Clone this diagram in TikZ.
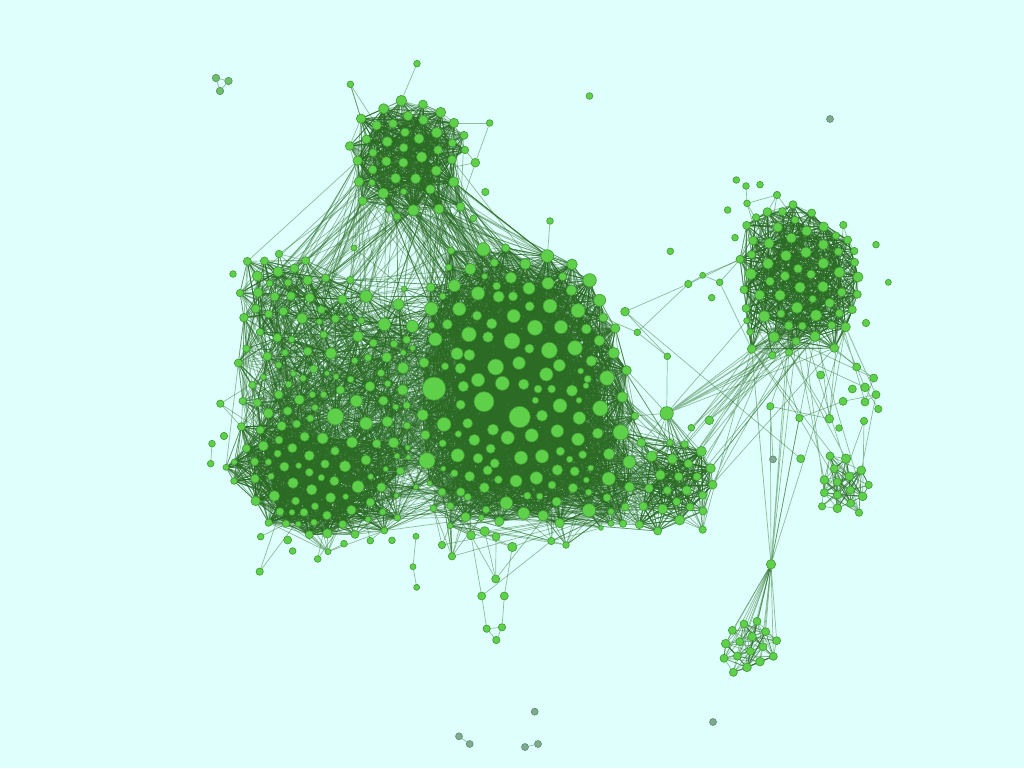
\documentclass[tikz,border=0pt]{standalone}
\pgfdeclarelayer{edges}
\pgfsetlayers{edges,main}
\definecolor{bgc}{HTML}{DFFFFD}
\definecolor{nodefill}{HTML}{5FD04A}
\definecolor{noderim}{HTML}{3F9A32}
\definecolor{edgec}{HTML}{2B6B24}
\definecolor{grayfill}{HTML}{7FAA90}
\definecolor{grayrim}{HTML}{5F8C70}
\tikzset{
  nd/.style={circle,inner sep=0pt,fill=nodefill,draw=noderim,line width=.6pt},
  ngray/.style={circle,inner sep=0pt,fill=grayfill,draw=grayrim,line width=.6pt,minimum size=7pt},
  edgebase/.style={color=edgec,line width=.7pt,draw opacity=.45}
}
\newcount\nidx \newcount\rsd \newcount\rhi \newcount\rlo \newcount\bufn
\newcount\eai \newcount\ebi \newcount\eaj \newcount\ecnt \newcount\pcnt \newcount\pstop
\rsd=20240611
\def\pathbuf{}
\def\nextr{\rhi=\rsd \divide\rhi by 127773
  \rlo=\numexpr\rsd-\rhi*127773\relax
  \rsd=\numexpr16807*\rlo-2836*\rhi\relax
  \ifnum\rsd<0 \advance\rsd by 2147483647 \fi}
\def\pickr#1#2#3{\nextr #3=\numexpr#1+\rsd*(#2-#1)/2147483647\relax}
\def\grp#1#2#3{\foreach \x/\y/\zd in {#3}{%
  \global\advance\nidx by 1
  \node[nd,minimum size={\zd/3*1pt}] (n\the\nidx) at ({#1+\x/3},{#2+\y/3}) {};
  \pgfmathtruncatemacro\tx{#1+\x/3}\pgfmathtruncatemacro\ty{#2+\y/3}%
  \expandafter\xdef\csname nx\the\nidx\endcsname{\tx}%
  \expandafter\xdef\csname ny\the\nidx\endcsname{\ty}%
  \expandafter\xdef\csname nd\the\nidx\endcsname{\zd}%
}}
\def\pend#1#2#3#4{\grp{#2}{#3}{0/0/#4}\pgfnodealias{#1}{n\the\nidx}\expandafter\xdef\csname id#1\endcsname{\the\nidx}}
\def\flushsegs{\ifnum\bufn>0 \edef\next{\noexpand\draw \pathbuf;}\next \def\pathbuf{}\bufn=0 \fi}
\def\addseg{\edef\pathbuf{\pathbuf (n\the\eai.center) -- (n\the\eaj.center) }\advance\bufn by 1 \ifnum\bufn>13 \flushsegs\fi}
\def\onee{%
  \pickr\ea\eb\eai \pickr\ea\eb\ebi
  \ifnum\csname nd\the\ebi\endcsname>\csname nd\the\eai\endcsname\relax \eai=\ebi \fi
  \pickr\ec\ed\eaj
  \ifnum\eai=\eaj\else
    \ifnum\numexpr(\csname nx\the\eai\endcsname-\csname nx\the\eaj\endcsname)*(\csname nx\the\eai\endcsname-\csname nx\the\eaj\endcsname)+(\csname ny\the\eai\endcsname-\csname ny\the\eaj\endcsname)*(\csname ny\the\eai\endcsname-\csname ny\the\eaj\endcsname)\relax<\numexpr\el*\el\relax
      \addseg
    \fi
  \fi}
\def\edgeloop{\ifnum\ecnt>0 \onee \advance\ecnt by -1 \expandafter\edgeloop\fi}
\def\edges#1#2#3#4#5#6{\edef\ea{\number#2}\edef\eb{\number#3}\edef\ec{\number#4}\edef\ed{\number#5}\def\el{#6}\ecnt=#1 \edgeloop \flushsegs}
% for every node a..b: k tries to range c..d within length L
\def\pendloop{\ifnum\pcnt>\pstop\else
   \edef\ea{\the\pcnt}\edef\eb{\the\pcnt}\ecnt=\pk \edgeloop \advance\pcnt by 1 \expandafter\pendloop\fi}
\def\pends#1#2#3#4#5#6{\pcnt=\numexpr#1\relax \pstop=\numexpr#2\relax \def\pk{#3}\edef\ec{\number\numexpr#4\relax}\edef\ed{\number\numexpr#5\relax}\def\el{#6}\pendloop \flushsegs}
\def\mark#1{\expandafter\xdef\csname #1\endcsname{\the\nidx}}
\begin{document}
\begin{tikzpicture}[x=1pt,y=-1pt]
\useasboundingbox (0,0) rectangle (1024,768);
\begin{pgfonlayer}{edges}
\fill[bgc] (0,0) rectangle (1024,768);
\end{pgfonlayer}
% ---------- top cluster
\edef\Ts{\the\numexpr\nidx+1}
\grp{340}{50}{184/152/32,131/176/30,249/163/26,302/187/30,63/206/28,342/219/28,204/198/28,250/210/28,159/221/26,110/226/28,372/256/24,195/247/26,290/248/32,237/266/30,79/268/26,142/275/30,337/279/24,29/288/26,375/300/22,294/300/26,191/293/26,99/308/24,245/321/32,53/332/28,336/329/26,139/334/28,190/338/28,98/359/26,289/362/30,167/385/30,227/386/30,57/395/28,96/398/20,341/396/30,271/418/28,191/425/20,130/430/32,68/453/26,362/470/26,297/477/30,220/481/34,148/477/20,171/500/22}
\mark{Te}
\edef\TPs{\the\numexpr\nidx+1}
\grp{340}{50}{231/41/20,31/103/20,449/219/20,406/338/26,436/426/22,400/505/20}
\mark{TPe}
% ---------- left cluster
\edef\Ls{\the\numexpr\nidx+1}
\grp{200}{250}{237/12/22,142/34/24,193/33/24,317/32/24,234/65/30,283/55/26,172/78/30,377/84/24,323/91/28,264/98/22,209/100/20,451/90/22,120/129/22,174/128/28,224/140/26,273/138/26,329/143/28,427/148/28,498/139/36,612/116/16,595/163/34,167/176/26,206/192/24,250/184/26,364/179/24,132/203/26,306/205/32,358/215/18,406/206/24,450/203/18,484/212/20,553/223/38,637/229/36,180/246/22,232/263/26,275/268/20,371/254/22,474/259/32,520/279/24,620/269/24,582/282/22,638/294/18,139/296/22,323/304/26,393/310/34,255/308/20,202/319/26,610/308/18,115/339/24,236/345/20,464/332/20,504/323/22,560/322/30,609/354/34,341/357/24,280/371/18,381/370/16,543/369/22,190/381/18,309/385/20,408/380/18,452/388/20,157/405/22,266/403/20,563/401/20,510/409/30,608/420/32,421/420/26,236/434/26,337/434/20,371/434/20,128/453/22,172/458/24,298/449/30,469/453/36,550/452/28,587/471/18,620/466/22,345/473/20,263/483/26,205/490/30,406/500/50,331/505/22,290/522/24,498/520/38,562/515/32,124/530/24,245/528/28,621/527/22,181/540/24,314/560/28,368/565/34,237/570/24,456/577/34,530/581/26,581/578/32,190/588/30,139/595/24,277/594/28,405/603/26,233/611/22,328/617/30,103/636/18,164/635/24,205/636/20,375/642/26,498/630/30,623/593/16,591/618/18,625/622/16,296/647/18,253/650/28,435/649/34,78/652/18,328/667/24,557/657/16,601/663/24,213/679/20,165/686/26,364/683/20,512/680/18,403/693/28,102/693/20,279/699/32,474/710/36,544/712/28,648/711/16,335/719/32,223/738/32,437/740/18,392/743/30,589/737/16,167/753/28,287/753/24,511/757/26,345/769/22,240/785/24,276/787/18,312/787/24,454/780/28,548/786/20,381/796/26,504/808/18,592/803/20,206/818/22,258/821/22,295/822/18,342/817/20,428/823/24,553/842/20,328/854/24,382/850/28,465/853/24}
\mark{Le}
\edef\LPs{\the\numexpr\nidx+1}
\grp{200}{250}{99/72/20,61/461/22,72/558/22,36/581/20,32/641/20,182/860/20,263/870/24,648/859/18,432/881/20,511/872/20,576/871/20,278/903/20,384/905/18,353/927/20,179/965/22}
\mark{LPe}
% ---------- main cluster
\edef\Ms{\the\numexpr\nidx+1}
\grp{400}{240}{250/28/40,317/24/24,153/32/22,442/48/38,516/73/32,146/82/20,283/68/24,376/72/32,211/87/34,254/109/18,333/113/34,488/110/24,569/121/40,444/130/36,163/137/36,92/142/26,290/138/24,387/145/36,514/151/32,234/160/40,296/170/34,339/169/28,128/169/20,599/181/36,389/199/28,450/198/42,94/206/40,178/207/40,534/212/42,341/228/40,231/227/28,610/233/26,275/251/32,94/256/20,142/253/30,405/263/46,483/261/40,559/267/30,646/265/28,207/283/44,264/291/32,106/298/40,336/303/48,598/302/32,388/326/28,448/331/48,525/324/44,171/341/36,208/345/34,641/339/34,72/368/30,357/369/38,135/379/22,574/363/32,181/385/32,287/381/48,478/376/36,680/391/28,439/403/40,542/393/18,234/420/40,563/417/22,621/414/44,307/430/42,371/433/32,558/437/18,190/439/32,102/446/70,414/447/24,455/447/24,516/452/34,667/471/32,252/485/60,406/481/20,537/481/18,182/494/28,480/497/42,601/505/46,705/528/22,68/525/34,359/531/64,426/527/34,538/534/38,132/553/42,203/550/30,279/569/34,472/573/38,662/577/46,76/585/28,175/582/20,593/580/32,323/593/40,395/586/40,223/600/34,534/598/38,128/610/22,272/626/28,627/642/34,481/634/26,548/644/24,173/646/40,426/649/40,363/653/40,234/655/30,509/658/20,81/662/48,688/666/38,284/670/28,263/691/28,472/690/32,130/686/16,572/684/18,524/694/28,163/700/22,209/709/30,409/714/38,626/716/40,348/723/36,295/719/24,559/720/18,89/730/16,456/735/24,253/743/30,519/744/28,688/741/30,126/756/24,182/756/26,566/757/20,203/771/22,382/767/22,419/769/20,621/773/24,470/785/28,319/789/38,676/801/24,100/805/20,151/798/22,567/811/40,258/809/22,371/820/36,429/827/32,633/815/20,197/831/28,244/833/18,298/844/28,479/849/28,633/850/18,669/851/22,150/857/18,603/864/14}
\mark{Me}
\edef\MPs{\the\numexpr\nidx+1}
\grp{400}{240}{675/215/26,712/277/20}
\mark{MPe}
% ---------- south east lobe
\edef\Ss{\the\numexpr\nidx+1}
\grp{600}{390}{124/158/26,210/158/20,254/163/22,304/184/30,155/199/32,217/207/30,265/221/26,332/235/28,181/255/30,236/260/26,291/260/24,338/284/26,147/295/26,202/301/24,260/301/28,308/316/24,230/335/24,130/349/26,270/351/24,188/357/30,309/363/24,239/390/30,118/404/24,173/423/24,308/419/22}
\mark{Se}
\pend{hubA}{666.7}{413.3}{40}
\pend{pk}{691.3}{427.7}{20}
\pend{pl}{709.3}{420.3}{26}
% ---------- right cluster
\edef\Rs{\the\numexpr\nidx+1}
\grp{700}{170}{141/100/20,279/104/24,202/126/26,247/125/24,335/129/24,168/142/22,285/150/22,140/166/24,233/172/28,371/170/28,320/183/30,408/197/22,274/204/30,443/210/24,159/212/26,207/220/30,370/224/30,463/243/22,415/245/24,155/254/24,318/247/32,258/257/32,120/268/24,464/277/24,370/280/32,204/281/32,294/296/26,418/307/32,152/312/34,333/313/26,255/318/28,474/321/30,210/334/26,369/350/32,300/352/32,132/359/24,425/367/26,179/375/30,240/376/32,472/373/24,338/387/22,389/399/28,138/415/24,291/413/34,457/419/24,243/431/24,418/430/24,193/439/34,348/436/34,140/452/18,266/467/26,307/468/24,395/466/24,437/471/28,150/486/20,222/501/32,345/499/30,288/514/24,403/534/26,155/537/26,267/547/22,217/556/22}
\mark{Re}
\edef\RPs{\the\numexpr\nidx+1}
\grp{700}{170}{109/30/20,138/48/20,180/44/20,231/75/22,83/120/20,430/165/22,105/203/20,528/224/20,565/337/18,35/383/20,498/459/22,471/591/20}
\mark{RPe}
\pend{pa}{702.7}{275.3}{18}
\pend{pb}{719.7}{282.3}{20}
\pend{pc}{688.3}{284}{22}
\pend{pd}{667.3}{356.3}{20}
\pend{pe}{670.3}{251.3}{20}
\pend{pf}{550}{221}{20}
\pend{pg}{354}{248}{18}
\pend{ph}{589.5}{96}{20}
% ---------- nodes between right and small cluster
\edef\Zs{\the\numexpr\nidx+1}
\grp{750}{330}{320/111/24,371/144/24,212/135/24,345/172/26,307/177/24,378/194/24,279/214/24,345/216/24,385/237/22,148/264/22,267/294/20,342/273/22}
\mark{Ze}
\pend{za}{770.3}{406.3}{22}
\pend{zb}{829.3}{418.7}{26}
% ---------- small cluster
\pend{qa}{800.7}{458.7}{24}
\edef\Qs{\the\numexpr\nidx+1}
\grp{700}{440}{390/48/24,438/56/28,484/91/26,403/86/24,448/109/26,373/120/26,412/126/24,506/135/22,451/150/24,373/158/24,412/165/24,488/169/26,452/190/24,366/199/22,412/205/26,477/218/22}
\mark{Qe}
% ---------- bottom cluster
\pend{hubB}{771}{564.3}{28}
\edef\Bs{\the\numexpr\nidx+1}
\grp{700}{440}{97/571/24,132/552/24,171/544/24,197/575/24,230/602/24,156/590/26,119/605/24,77/611/26,189/620/24,151/634/24,112/648/24,72/655/24,220/649/24,180/665/26,141/682/26,100/697/24}
\mark{Be}
% ---------- south fringe
\pend{sa}{512.3}{547}{28}
\pend{sb}{495.7}{579}{24}
\pend{sc}{481.7}{596}{24}
\pend{sd}{504.3}{596}{24}
\pend{se}{486.7}{628.7}{22}
\pend{sf}{502}{627.3}{22}
\pend{sg}{496.3}{640}{22}
\pend{sh}{471}{535.3}{26}
\pend{si}{484.7}{531.3}{28}
\pend{sj}{551.3}{541}{22}
\pend{sk}{442}{545}{22}
\pend{sl}{452}{556.3}{22}
\pend{sm}{496}{536.7}{24}
\pend{sn}{566}{545}{20}
\pend{so}{413}{566.7}{18}
\pend{sp}{416.7}{587.3}{18}
% ---------- separate little groups
\node[ngray,fill=grayfill!40!nodefill,minimum size=7.5pt] (ta) at (216,78) {};
\node[ngray,fill=grayfill!40!nodefill,minimum size=7.5pt] (tb) at (228.5,81) {};
\node[ngray,fill=grayfill!40!nodefill,minimum size=7.5pt] (tc) at (220,91) {};
\node[ngray] (ga) at (830,119) {};
\node[ngray] (gb) at (773,459.3) {};
\node[ngray] (gc) at (534.7,711.7) {};
\node[ngray] (gd) at (459,736.3) {};
\node[ngray] (ge) at (469.7,744) {};
\node[ngray] (gf) at (525,747) {};
\node[ngray] (gg) at (538,744) {};
\node[ngray] (gh) at (713,722) {};
\begin{pgfonlayer}{edges}
\begin{scope}[edgebase]
\draw (ta) -- (tb); \draw (tb) -- (tc); \draw (ta) -- (tc);
\draw (gd) -- (ge); \draw (gf) -- (gg);
% clusters
\edges{1200}{\Ts}{\Te}{\Ts}{\Te}{105}
\edges{4500}{\Ls}{\Le}{\Ls}{\Le}{105}
\edges{2500}{\numexpr\Ls+85}{\Le}{\numexpr\Ls+85}{\Le}{85}
\edges{10000}{\Ls}{\Le}{\Ls}{\Le}{50}
\edges{8000}{\Ms}{\Me}{\Ms}{\Me}{150}
\edges{8000}{\Ms}{\Me}{\Ms}{\Me}{60}
\edges{4500}{\Ms}{\Me}{\Ls}{\Le}{135}
\edges{4000}{\Ms}{\Me}{\Ls}{\Le}{60}
\edges{1900}{\Ms}{\Me}{\Ss}{\Se}{110}
\edges{650}{\Ss}{\Se}{\Ss}{\Se}{65}
\edges{2000}{\Rs}{\Re}{\Rs}{\Re}{85}
\edges{2500}{\Rs}{\Re}{\Rs}{\Re}{45}
\edges{130}{\Qs}{\Qe}{\Qs}{\Qe}{55}
\edges{110}{\Bs}{\Be}{\Bs}{\Be}{50}
% top cluster to the clusters below
\edges{170}{\numexpr\Ts+20}{\Te}{\Ls}{\numexpr\Ls+32}{165}
\edges{230}{\numexpr\Ts+20}{\Te}{\Ms}{\numexpr\Ms+30}{175}
% fringes
\pends{\TPs}{\TPe}{12}{\Ts}{\Te}{60}
\draw (n\TPs) -- (n\Ts);
\draw (n\the\numexpr\TPs+1) -- (n\the\numexpr\Ts+4);
\draw (n\the\numexpr\TPs+2) -- (n\the\numexpr\Ts+5);
\draw (n\the\numexpr\TPs+2) -- (n\the\numexpr\TPs+3);
\pends{\LPs}{\LPe}{12}{\Ls}{\Le}{60}
\pends{\LPs}{\LPe}{1}{\LPs}{\LPe}{45}
\pends{\numexpr\LPs+11}{\LPe}{14}{\numexpr\Ls+120}{\Le}{85}
\pends{\MPs}{\MPe}{8}{\Ms}{\Me}{70}
\pends{\MPs}{\MPe}{6}{\Ss}{\Se}{110}
\pends{\RPs}{\RPe}{16}{\Rs}{\Re}{50}
% hub A
\edges{45}{\idhubA}{\idhubA}{\Ms}{\Me}{75}
\edges{35}{\idhubA}{\idhubA}{\Ss}{\Se}{90}
\edges{12}{\idhubA}{\idhubA}{\numexpr\Re-14}{\Re}{200}
\pends{\idpk}{\idpl}{6}{\Ss}{\Se}{45}
\edges{24}{\numexpr\Re-12}{\Re}{\numexpr\Ss+3}{\Se}{210}
\edges{6}{\numexpr\Re-12}{\Re}{\idpk}{\idpl}{200}
% right fringe
\draw (pa) -- (pc); \draw (pc) -- (n\MPs); \draw (pb) -- (pa);
\draw (pc) -- (n\the\numexpr\Rs+22); \draw (pb) -- (n\the\numexpr\Rs+22);
\draw (n\the\numexpr\MPs+1) -- (pc);
\draw (pa) -- (n\the\numexpr\Rs+19);
\draw (pb) -- (n\the\numexpr\Re-2);
\draw (pd) -- (hubA); \draw (pd) -- (n\MPs);
\draw (pd) -- (n\the\numexpr\MPs+1);
\draw (n\MPs) -- (qa);
\draw (pf) -- (n\the\numexpr\Ms+3);
\draw (pg) -- (n\the\numexpr\Ls+19);
% middle nodes
\pends{\Zs}{\Ze}{4}{\numexpr\Re-24}{\Re}{110}
\pends{\Zs}{\Ze}{2}{\Zs}{\Ze}{50}
\pends{\Zs}{\Ze}{2}{\Qs}{\Qe}{90}
\draw (za) -- (zb); \draw (za) -- (hubB);
\draw (za) -- (n\the\numexpr\Re-1);
\draw (gb) -- (za);
\pends{\idzb}{\idzb}{5}{\Qs}{\Qe}{80}
\pends{\idzb}{\idzb}{4}{\numexpr\Re-20}{\Re}{130}
\pends{\idqa}{\idqa}{12}{\Qs}{\Qe}{60}
\edges{6}{\Qs}{\Qe}{\numexpr\Re-12}{\Re}{210}
% hub B
\foreach \k in {\Bs,...,\Be}{\draw (hubB) -- (n\k);}
\edges{10}{\idhubB}{\idhubB}{\numexpr\Re-12}{\Re}{260}
\draw (hubB) -- (n\the\numexpr\Zs+9);
% south fringe: links up into the main and left clusters
\draw (sc) -- (sh); \draw (sc) -- (se); \draw (sc) -- (sj);
\draw (sd) -- (sa); \draw (sd) -- (sf);
\draw (sb) -- (si); \draw (sb) -- (sh); \draw (sb) -- (sm);
\draw (sb) -- (n\the\numexpr\Me-17);
\draw (se) -- (sf); \draw (se) -- (sg); \draw (sf) -- (sg);
\foreach \fr in {sa,sh,si,sj,sk,sl,sm,sn}{\draw (\fr) -- (n\the\numexpr\Me-1); \draw (\fr) -- (n\the\numexpr\Me-8); \draw (\fr) -- (n\the\numexpr\Me-14);}
\pends{\idsa}{\idsa}{30}{\numexpr\Ms+100}{\Me}{70}
\pends{\idsh}{\idsn}{40}{\numexpr\Ms+100}{\Me}{70}
\pends{\idsk}{\idsl}{25}{\numexpr\Ls+100}{\Le}{70}
\draw (so) -- (sp); \draw (so) -- (n\the\numexpr\LPs+7);
\end{scope}
\end{pgfonlayer}
\end{tikzpicture}
\end{document}
